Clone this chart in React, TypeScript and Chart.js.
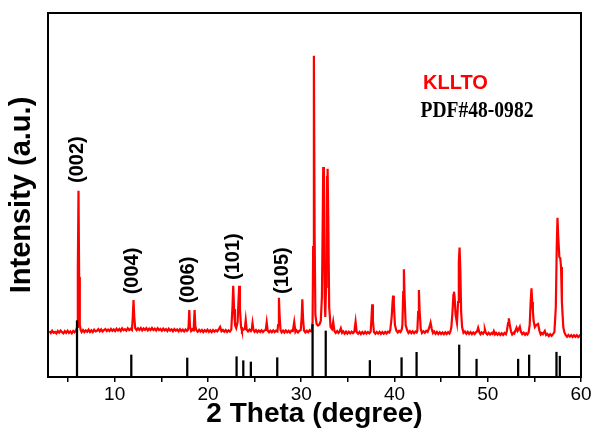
import React, { useEffect, useRef } from "react";
import { Chart, registerables } from "chart.js";

Chart.register(...registerables);

// Measured XRD trace of KLLTO: [2theta, intensity (a.u.)]
const TRACE: [number, number][] = [
  [3.0, 45.8], [3.15, 43.9], [3.3, 46.2], [3.45, 44.3], [3.6, 45.1], [3.75, 43.6], [3.9, 46.0], [4.05, 44.4], [4.2, 46.5], [4.35, 44.8],
  [4.5, 43.7], [4.65, 45.9], [4.8, 44.2], [4.95, 46.3], [5.1, 44.0], [5.25, 45.6], [5.4, 43.8], [5.55, 46.1], [5.7, 44.7], [5.85, 46.5],
  [5.98, 50], [6.05, 110], [6.12, 186.3], [6.19, 100], [6.26, 52], [6.35, 47],
  [6.45, 45.0], [6.6, 47.1], [6.75, 44.9], [6.9, 46.6], [7.05, 45.2], [7.2, 47.4], [7.35, 45.0], [7.5, 46.8], [7.65, 44.9], [7.8, 47.3],
  [7.95, 45.6], [8.1, 46.2], [8.25, 47.9], [8.4, 45.7], [8.55, 47.5], [8.7, 45.4], [8.85, 46.9], [9.0, 48.0], [9.15, 45.9], [9.3, 47.4],
  [9.45, 46.0], [9.6, 48.1], [9.75, 46.2], [9.9, 47.6], [10.05, 45.9], [10.2, 48.3], [10.35, 46.4], [10.5, 48.0], [10.65, 46.1], [10.8, 48.6],
  [10.95, 46.7], [11.1, 47.8], [11.25, 46.3], [11.4, 48.7], [11.55, 46.9], [11.7, 48.2], [11.85, 47.0],
  [11.94, 60], [12.02, 77], [12.1, 60], [12.2, 48.9],
  [12.35, 46.8], [12.5, 48.7], [12.65, 47.0], [12.8, 49.0], [12.95, 46.6], [13.1, 48.5], [13.25, 47.2], [13.4, 48.9], [13.55, 46.7], [13.7, 48.3],
  [13.85, 46.9], [14.0, 49.1], [14.15, 47.0], [14.3, 48.4], [14.45, 46.5], [14.6, 48.8], [14.75, 46.8], [14.9, 48.1], [15.05, 46.2], [15.2, 48.4],
  [15.35, 46.6], [15.5, 47.9], [15.65, 45.9], [15.8, 48.2], [15.95, 46.4], [16.1, 47.7], [16.25, 45.8], [16.4, 48.0], [16.55, 46.3], [16.7, 47.6],
  [16.85, 45.7], [17.0, 47.8], [17.15, 45.9], [17.3, 47.3], [17.45, 45.6], [17.6, 47.5], [17.75, 46.0], [17.85, 47.0],
  [17.92, 50], [18.0, 67], [18.08, 50], [18.2, 46.0], [18.32, 47.6], [18.42, 46.5], [18.49, 52], [18.57, 67], [18.65, 51], [18.75, 46.8],
  [18.9, 45.3], [19.05, 47.2], [19.2, 45.5], [19.35, 47.0], [19.5, 45.0], [19.65, 46.9], [19.8, 45.4], [19.95, 47.3], [20.1, 45.1], [20.25, 46.7],
  [20.4, 44.9], [20.55, 47.0], [20.7, 45.3], [20.85, 46.8], [21.0, 45.6], [21.15, 47.5], [21.3, 50], [21.45, 45.8], [21.6, 47.1], [21.75, 45.2],
  [21.9, 46.9], [22.05, 45.0], [22.2, 46.7], [22.35, 45.4], [22.5, 47.3],
  [22.63, 70], [22.71, 91.3], [22.8, 68], [22.9, 52], [23.03, 49], [23.18, 55], [23.27, 75], [23.35, 91.3], [23.43, 68], [23.55, 50],
  [23.65, 46.0], [23.8, 47.8], [23.95, 48], [24.05, 57], [24.15, 47.5], [24.3, 45.6], [24.45, 47.4], [24.6, 46.0], [24.7, 48], [24.78, 54],
  [24.88, 47], [25.0, 45.2], [25.15, 46.9], [25.3, 44.8], [25.45, 46.6], [25.6, 45.0], [25.75, 46.8], [25.9, 44.9], [26.05, 46.5], [26.2, 47],
  [26.3, 54.5], [26.4, 46.5], [26.55, 44.8], [26.7, 46.4], [26.85, 44.7], [27.0, 46.6], [27.15, 44.9], [27.3, 46.3], [27.45, 45.5], [27.52, 52],
  [27.61, 79.3], [27.68, 62], [27.78, 47], [27.9, 44.6], [28.05, 46.4], [28.2, 44.5], [28.35, 46.6], [28.5, 44.7], [28.65, 46.2], [28.8, 44.4],
  [28.95, 46.5], [29.1, 46.0], [29.25, 55], [29.38, 45.0], [29.5, 46.6], [29.65, 44.6], [29.8, 46.3], [29.95, 47], [30.05, 60], [30.12, 77.7],
  [30.2, 58], [30.3, 46.5], [30.45, 44.5], [30.6, 46.3], [30.75, 44.7], [30.9, 46.8], [31.05, 45.5], [31.15, 48], [31.22, 55],
  [31.28, 130], [31.36, 321.3], [31.44, 140], [31.52, 62], [31.65, 53], [31.8, 51.5], [31.95, 52.5], [32.1, 56], [32.22, 80],
  [32.3, 150], [32.36, 210], [32.43, 160], [32.52, 80], [32.58, 60], [32.66, 90], [32.72, 160], [32.77, 200], [32.83, 208.3], [32.9, 160], [33.0, 70],
  [33.15, 50], [33.3, 48], [33.43, 55.3], [33.56, 46],
  [33.7, 44.1], [33.85, 45.9], [34.0, 44.0], [34.12, 45.5], [34.25, 48.7], [34.38, 44.2], [34.5, 45.6], [34.65, 43.5], [34.8, 45.4], [34.95, 43.3],
  [35.1, 45.2], [35.25, 43.6], [35.4, 45.3], [35.55, 43.8], [35.7, 45.5], [35.83, 55.3], [35.95, 45.0], [36.1, 43.2], [36.25, 45.1], [36.4, 43.0],
  [36.55, 44.9], [36.7, 43.3], [36.85, 45.2], [37.0, 43.5], [37.15, 45.0], [37.3, 43.7], [37.45, 45.5],
  [37.53, 58], [37.61, 72.7], [37.69, 56], [37.8, 44.9], [37.95, 43.2], [38.1, 45.0], [38.25, 43.4], [38.4, 45.2], [38.55, 43.1], [38.7, 44.9],
  [38.85, 43.3], [39.0, 45.1], [39.15, 43.5], [39.3, 45.3], [39.45, 44.5],
  [39.55, 47], [39.7, 60], [39.8, 76], [39.86, 81.3], [39.93, 74], [40.05, 52], [40.2, 46.5], [40.35, 44.6], [40.5, 46.2], [40.65, 45.0], [40.78, 47.5],
  [40.85, 52], [40.94, 85], [41.01, 107.7], [41.08, 82], [41.2, 52], [41.35, 47], [41.5, 44.0], [41.65, 45.8], [41.8, 43.8], [41.95, 45.6],
  [42.1, 43.7], [42.25, 45.5], [42.38, 44.5], [42.45, 46],
  [42.54, 65], [42.62, 87], [42.7, 66], [42.82, 48], [42.95, 44.0], [43.1, 45.7], [43.25, 44.2], [43.4, 46.2], [43.55, 45.0], [43.65, 47.5],
  [43.75, 50], [43.87, 54.3], [44.0, 48], [44.12, 44.0], [44.25, 45.5], [44.4, 43.2], [44.55, 45.0], [44.7, 42.9], [44.85, 44.8], [45.0, 43.0],
  [45.15, 44.6], [45.3, 42.8], [45.45, 44.7], [45.6, 43.1], [45.75, 44.9], [45.9, 43.5], [46.0, 45.5],
  [46.1, 50], [46.22, 65], [46.32, 82], [46.38, 85.3], [46.45, 80], [46.55, 62], [46.7, 54], [46.82, 75], [46.9, 115], [46.98, 129.5], [47.06, 108],
  [47.15, 65], [47.25, 50], [47.4, 44.2], [47.55, 45.6], [47.7, 43.3], [47.85, 45.2], [48.0, 43.1], [48.15, 44.9], [48.3, 42.8], [48.45, 44.6],
  [48.6, 43.0], [48.75, 44.9], [48.85, 45.5], [48.97, 49.3], [49.1, 45.0], [49.22, 42.9], [49.35, 44.5], [49.5, 43.2], [49.6, 45], [49.69, 47.7],
  [49.8, 44.0], [49.95, 42.5], [50.1, 44.3], [50.25, 42.4], [50.4, 44.0], [50.52, 43.0], [50.65, 46], [50.78, 42.6], [50.9, 44.1], [51.05, 42.2],
  [51.2, 43.9], [51.35, 42.0], [51.5, 43.8], [51.65, 42.1], [51.8, 44.0], [51.95, 42.7], [52.05, 46],
  [52.18, 54], [52.26, 58.7], [52.35, 53], [52.5, 45.2], [52.62, 42.5], [52.75, 44.2], [52.85, 43.5], [52.95, 46], [53.09, 49.3], [53.2, 46],
  [53.3, 47.5], [53.44, 50.3], [53.55, 45.5], [53.7, 42.9], [53.85, 44.3], [54.0, 42.2], [54.12, 43.8], [54.25, 42.5], [54.38, 44.5],
  [54.5, 52], [54.6, 75], [54.69, 88.7], [54.77, 75], [54.84, 66], [54.92, 56], [55.05, 50], [55.2, 52], [55.3, 52.5], [55.4, 53],
  [55.55, 46], [55.68, 42.5], [55.8, 44.0], [55.92, 42.8], [56.0, 44.2], [56.12, 46], [56.25, 42.0], [56.4, 43.2], [56.55, 41.0], [56.7, 42.8],
  [56.85, 41.2], [57.0, 42.9], [57.15, 45],
  [57.3, 70], [57.4, 130], [57.48, 159.3], [57.56, 140], [57.68, 120], [57.78, 118.7], [57.86, 110], [57.95, 75], [58.1, 50],
  [58.22, 44.5], [58.35, 42.0], [58.5, 40.3], [58.65, 42.0], [58.8, 40.4], [58.95, 41.9], [59.1, 40.0], [59.25, 41.8], [59.4, 40.2],
  [59.55, 41.7], [59.7, 39.9], [59.85, 41.5], [60.0, 40.5],
];

// PDF#48-0982 reference lines
const REF_POS = [5.96, 11.78, 17.78, 23.07, 23.79, 24.6, 27.43, 31.22, 32.63, 37.36, 40.76, 42.37, 46.94, 48.8, 53.26, 54.44, 57.37, 57.73];
const REF_H = [56.3, 22, 19, 20.3, 16.3, 15, 19.3, 52.5, 46, 16.5, 19.3, 24.7, 32, 17.8, 17.8, 22, 24.8, 20.8];

// Peak index labels
const PEAK_LABELS = ["(002)", "(004)", "(006)", "(101)", "(105)"];
const PEAK_LABEL_X = [6.01, 11.96, 17.86, 22.69, 28.0];
const PEAK_LABEL_Y = [194, 82.7, 73.7, 97, 83];

const X_TICKS = [5, 10, 15, 20, 25, 30, 35, 40, 45, 50, 55, 60];

const SANS = "'Liberation Sans', Arial, sans-serif";
const SERIF = "'Liberation Serif', 'Times New Roman', serif";

const framePlugin = {
  id: "frame",
  afterDraw(chart: any) {
    const { ctx, chartArea: a } = chart;
    ctx.save();
    ctx.strokeStyle = "#000";
    ctx.lineWidth = 2;
    ctx.strokeRect(a.left, a.top, a.right - a.left, a.bottom - a.top);
    ctx.restore();
  },
};

const textPlugin = {
  id: "texts",
  afterDatasetsDraw(chart: any) {
    const { ctx, chartArea: a } = chart;
    const xs = chart.scales.x;
    const ys = chart.scales.y;
    ctx.save();
    ctx.fillStyle = "#000";
    ctx.font = `bold 20px ${SANS}`;
    ctx.textAlign = "left";
    ctx.textBaseline = "middle";
    PEAK_LABELS.forEach((t, i) => {
      const px = xs.getPixelForValue(PEAK_LABEL_X[i]);
      const py = ys.getPixelForValue(PEAK_LABEL_Y[i]);
      ctx.save();
      ctx.translate(px, py);
      ctx.rotate(-Math.PI / 2);
      ctx.fillText(t, 0, 0);
      ctx.restore();
    });
    ctx.textBaseline = "alphabetic";
    ctx.fillStyle = "rgb(255,0,0)";
    ctx.font = `bold 20px ${SANS}`;
    ctx.fillText("KLLTO", a.left + 375, a.top + 76);
    ctx.fillStyle = "#000";
    ctx.font = `bold 23px ${SERIF}`;
    ctx.save();
    ctx.translate(a.left + 372.5, a.top + 104);
    ctx.scale(0.85, 1);
    ctx.fillText("PDF#48-0982", 0, 0);
    ctx.restore();
    ctx.restore();
  },
};

export default function App() {
  const ref = useRef<HTMLCanvasElement | null>(null);
  useEffect(() => {
    document.body.style.margin = "0";
    if (!ref.current) return;
    const chart = new Chart(ref.current, {
      type: "line",
      data: {
        datasets: [
          {
            type: "line",
            data: TRACE.map(([x, y]) => ({ x, y })),
            borderColor: "rgb(255,0,0)",
            borderWidth: 2.2,
            pointRadius: 0,
            tension: 0,
            fill: false,
            order: 1,
          } as any,
          {
            type: "bar",
            data: REF_POS.map((x, i) => ({ x, y: REF_H[i] })),
            backgroundColor: "#000",
            barThickness: 1.6,
            order: 0,
          } as any,
        ],
      },
      options: {
        animation: false,
        responsive: false,
        events: [],
        layout: { padding: { top: 13, right: 14, left: 0, bottom: 0 } },
        plugins: { legend: { display: false }, tooltip: { enabled: false } },
        scales: {
          x: {
            type: "linear",
            min: 2.85,
            max: 60,
            offset: false,
            afterBuildTicks: (s: any) => {
              s.ticks = X_TICKS.map((v) => ({ value: v }));
            },
            afterFit: (s: any) => {
              s.height = 55;
            },
            ticks: {
              autoSkip: false,
              maxRotation: 0,
              padding: 1,
              color: "#000",
              font: { family: SANS, size: 19 },
              callback: (v: any) => (Number(v) % 10 === 0 ? String(v) : ""),
            },
            grid: {
              offset: false,
              drawOnChartArea: false,
              drawTicks: true,
              tickLength: 5,
              color: "#000",
              lineWidth: 1.5,
            },
            border: { display: false },
            title: {
              display: true,
              text: "2 Theta (degree)",
              color: "#000",
              font: { family: SANS, size: 28, weight: "bold" },
              padding: { top: 0, bottom: 1 },
            },
          },
          y: {
            type: "linear",
            min: 0,
            max: 364,
            afterFit: (s: any) => {
              s.width = 48;
            },
            ticks: { display: false },
            grid: { display: false },
            border: { display: false },
            title: {
              display: true,
              text: "Intensity (a.u.)",
              color: "#000",
              font: { family: SANS, size: 29, weight: "bold" },
              padding: { top: 5, bottom: 0 },
            },
          },
        },
      } as any,
      plugins: [framePlugin, textPlugin],
    });
    return () => chart.destroy();
  }, []);
  return <canvas ref={ref} width={595} height={432} style={{ display: "block" }} />;
}
